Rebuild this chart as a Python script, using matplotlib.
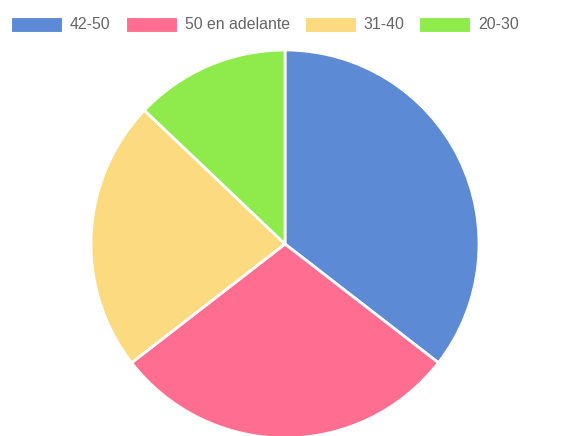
import matplotlib
matplotlib.use('Agg')
import matplotlib.pyplot as plt
from matplotlib.patches import Rectangle

# Age groups and counts
labels = ['42-50', '50 en adelante', '31-40', '20-30']
counts = [11, 9, 7, 4]
colors = ['#5d8ad4', '#ff6e91', '#fbda80', '#8feb4c']

W, H = 561, 436
fig = plt.figure(figsize=(W / 100, H / 100), dpi=100)
ax = fig.add_axes([0, 0, 1, 1])
ax.set_xlim(0, W)
ax.set_ylim(0, H)
ax.set_aspect('equal')
ax.axis('off')

# pie in pixel coordinates, starting at 12 o'clock, clockwise
ax.pie(counts, colors=colors, startangle=90, counterclock=False,
       center=(285, H - 244), radius=194,
       wedgeprops=dict(edgecolor='white', linewidth=2))
ax.set_xlim(0, W)
ax.set_ylim(0, H)

# legend row across the top
renderer = fig.canvas.get_renderer()
x = 11
y_box = H - 32
for lab, col in zip(labels, colors):
    ax.add_patch(Rectangle((x, y_box), 51, 15, facecolor=col,
                           edgecolor='white', linewidth=0.8))
    t = ax.text(x + 59, y_box + 7.5, lab, fontsize=11.4, color='#666666',
                family='Liberation Sans', va='center', ha='left')
    bb = t.get_window_extent(renderer)
    x = x + 59 + bb.width + 15

fig.savefig('out.png', dpi=100)
